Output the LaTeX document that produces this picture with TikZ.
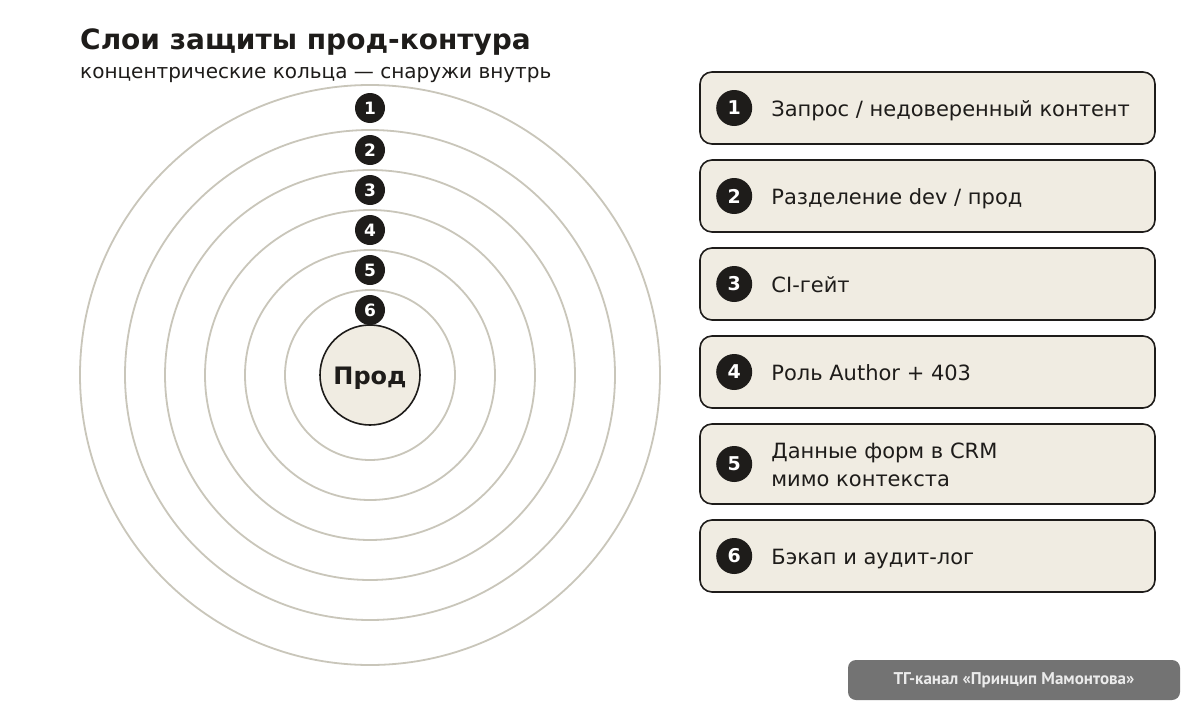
\documentclass[tikz,border=0pt]{standalone}
\usepackage{fontspec}
\setmainfont{DejaVu Sans}
\newfontfamily\footfont{PT Sans}
\definecolor{ringc}{HTML}{C9C6BA}
\definecolor{boxfill}{HTML}{F0ECE2}
\definecolor{ink}{HTML}{1E1C1A}
\definecolor{footbg}{HTML}{737373}
\definecolor{foottext}{HTML}{EBEBEB}
\begin{document}
\begin{tikzpicture}[x=1pt,y=-1pt,
  ringline/.style={draw=ringc,line width=1.8pt},
  ringnum/.style={circle,fill=ink,text=white,inner sep=0pt,minimum size=30pt,font=\bfseries\fontsize{17}{17}\selectfont},
  layerbox/.style={draw=ink,fill=boxfill,line width=1.6pt,rounded corners=12pt,minimum width=455pt,inner sep=0pt},
  boxnum/.style={circle,fill=ink,text=white,inner sep=0pt,minimum size=36pt,font=\bfseries\fontsize{19}{19}\selectfont},
  boxtext/.style={anchor=base west,align=left,inner sep=0pt,text=ink,font=\fontsize{21}{28}\selectfont}]
\useasboundingbox (0,0) rectangle (1200,720);
\fill[white] (0,0) rectangle (1200,720);
% title
\node[anchor=base west,inner sep=0pt,text=ink,font=\bfseries\fontsize{28}{28}\selectfont] (title) at (80,49) {Слои защиты прод-контура};
\node[anchor=base west,inner sep=0pt,text=ink,font=\fontsize{20}{20}\selectfont] (subtitle) at (80,78) {концентрические кольца — снаружи внутрь};
% rings
\coordinate (c) at (370,375);
\foreach \r in {290,245,205,165,125,85} {\draw[ringline] (c) circle[radius=\r pt];}
\node[circle,draw=ink,fill=boxfill,line width=1.6pt,minimum size=100pt,inner sep=0pt] (prod) at (c) {};
\node[anchor=base,inner sep=0pt,text=ink,font=\bfseries\fontsize{24}{24}\selectfont] (prodtext) at ([yshift=-9pt]prod.center) {Прод};
\node[ringnum] (r1) at (370,108) {1};
\node[ringnum] (r2) at (370,150) {2};
\node[ringnum] (r3) at (370,190) {3};
\node[ringnum] (r4) at (370,230) {4};
\node[ringnum] (r5) at (370,270) {5};
\node[ringnum] (r6) at (370,310) {6};
% boxes
\node[layerbox,minimum height=72pt] (b1) at (927.5,108) {};
\node[layerbox,minimum height=72pt] (b2) at (927.5,196) {};
\node[layerbox,minimum height=72pt] (b3) at (927.5,284) {};
\node[layerbox,minimum height=72pt] (b4) at (927.5,372) {};
\node[layerbox,minimum height=80pt] (b5) at (927.5,464) {};
\node[layerbox,minimum height=72pt] (b6) at (927.5,556) {};
\foreach \i in {1,...,6} {\node[boxnum] (n\i) at ([xshift=35pt]b\i.west) {\i};}
\node[boxtext] (t1) at ([xshift=72pt,yshift=-8pt]b1.west) {Запрос / недоверенный контент};
\node[boxtext] (t2) at ([xshift=72pt,yshift=-8pt]b2.west) {Разделение dev / прод};
\node[boxtext] (t3) at ([xshift=72pt,yshift=-8pt]b3.west) {CI-гейт};
\node[boxtext] (t4) at ([xshift=72pt,yshift=-8pt]b4.west) {Роль Author + 403};
\node[boxtext] (t5a) at ([xshift=72pt,yshift=6pt]b5.west) {Данные форм в CRM};
\node[boxtext] (t5b) at ([xshift=72pt,yshift=-22pt]b5.west) {мимо контекста};
\node[boxtext] (t6) at ([xshift=72pt,yshift=-8pt]b6.west) {Бэкап и аудит-лог};
% footer
\node[fill=footbg,rounded corners=8pt,minimum width=332pt,minimum height=40pt,inner sep=0pt,text=foottext,font=\footfont\bfseries\fontsize{17}{17}\selectfont] (foot) at (1014,680) {ТГ-канал «Принцип Мамонтова»};
\end{tikzpicture}
\end{document}
